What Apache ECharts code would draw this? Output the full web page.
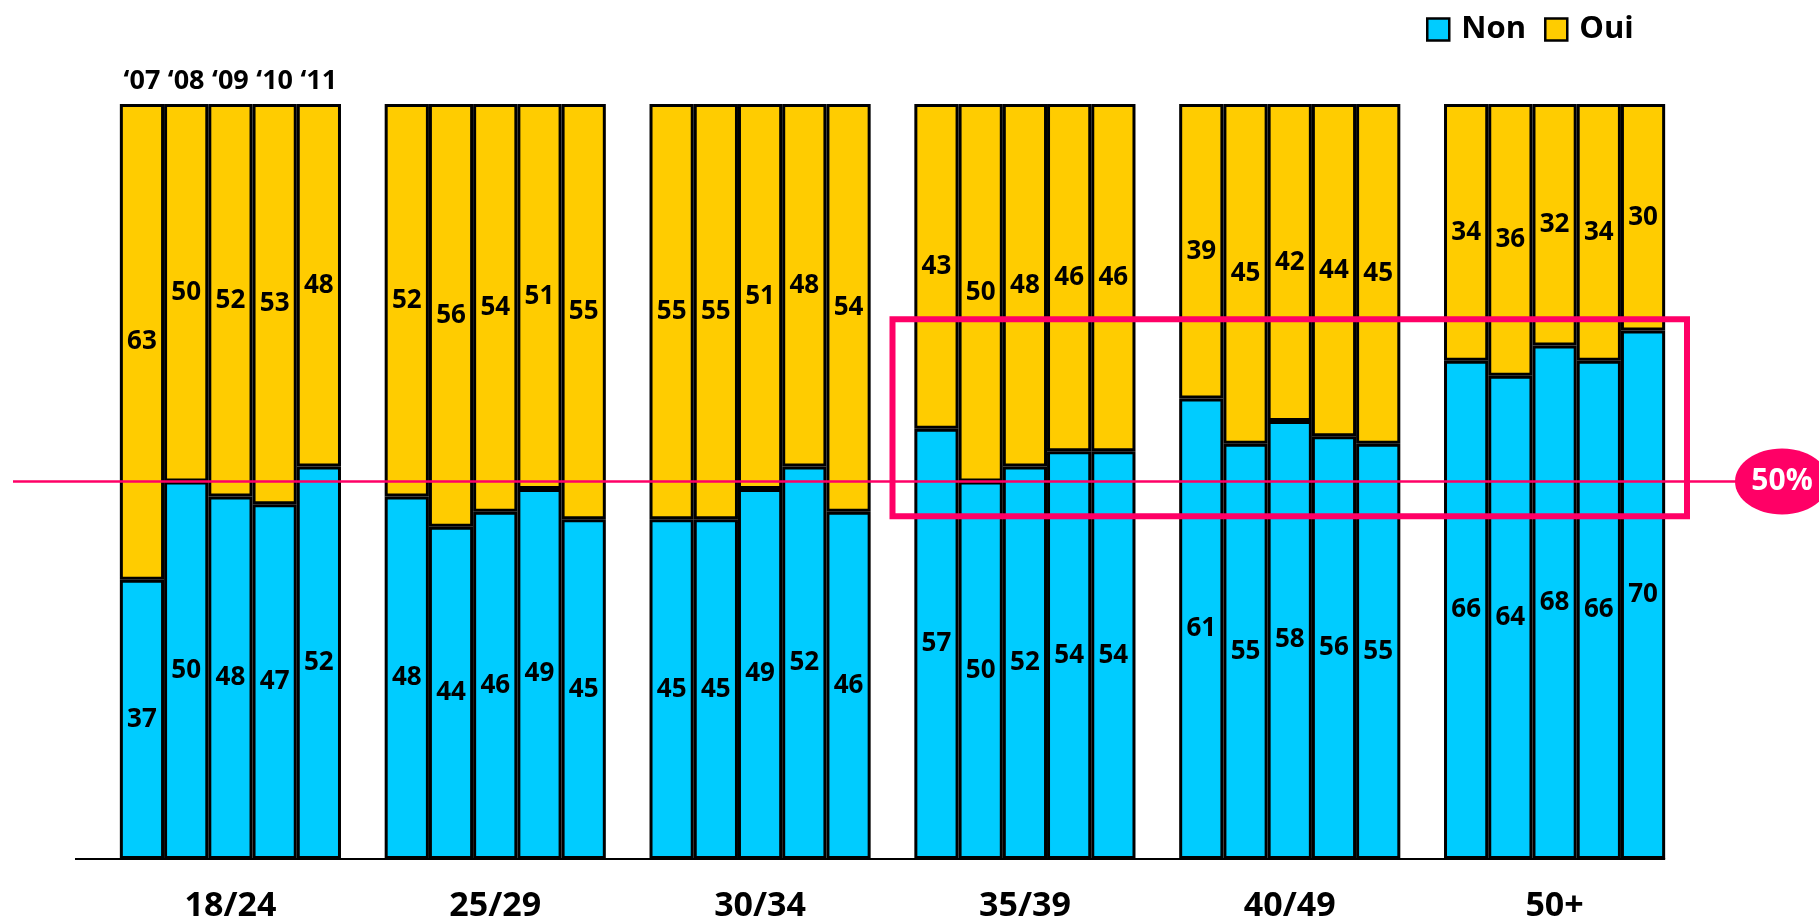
<!DOCTYPE html>
<html>
<head>
<meta charset="utf-8">
<style>
  html, body { margin: 0; padding: 0; background: #fff; }
  #chart { width: 1819px; height: 924px; }
</style>
<script src="https://cdn.jsdelivr.net/npm/echarts@6/dist/echarts.min.js"></script>
</head>
<body>
<div id="chart"></div>
<script>
// Age groups on the category axis
const categories = ['18/24', '25/29', '30/34', '35/39', '40/49', '50+'];
// Survey years, one bar per year inside each age group
const years = ['\u201807', '\u201808', '\u201809', '\u201810', '\u201811'];

// "Non" share (%) per age group, one array per year
const non07 = [37, 48, 45, 57, 61, 66];
const non08 = [50, 44, 45, 50, 55, 64];
const non09 = [48, 46, 49, 52, 58, 68];
const non10 = [47, 49, 52, 54, 56, 66];
const non11 = [52, 45, 46, 54, 55, 70];

// "Oui" share (%) per age group, one array per year
const oui07 = [63, 52, 55, 43, 39, 34];
const oui08 = [50, 56, 55, 50, 45, 36];
const oui09 = [52, 54, 51, 48, 42, 32];
const oui10 = [53, 51, 48, 46, 44, 34];
const oui11 = [48, 55, 54, 46, 45, 30];

const nonByYear = [non07, non08, non09, non10, non11];
const ouiByYear = [oui07, oui08, oui09, oui10, oui11];

// Reference level and highlighted zone
const refLevel = 50;
const refLabel = '50%';
const highlightFrom = '35/39';
const highlightTo = '50+';
const highlightTop = 71.5;
const highlightBottom = 45.4;

const FONT = '"Open Sans", "Noto Sans", sans-serif';
const CYAN = '#00CCFF';
const YELLOW = '#FFCC00';
const PINK = '#FF0066';
const CAT_GAP = 0.165;

const labelStyle = {
  show: true,
  position: 'inside',
  color: '#000',
  fontFamily: FONT,
  fontWeight: 'bold',
  fontSize: 26
};

const series = [];
years.forEach((yr, i) => {
  const stack = 'y' + i;
  series.push({
    name: 'Non', type: 'bar', stack: stack,
    data: nonByYear[i],
    itemStyle: { color: CYAN, borderColor: '#000', borderWidth: 3 },
    label: labelStyle
  });
  series.push({
    name: 'Oui', type: 'bar', stack: stack,
    data: ouiByYear[i],
    itemStyle: { color: YELLOW, borderColor: '#000', borderWidth: 3 },
    label: labelStyle
  });
  // zero-height cap carrying the year caption above the first group
  series.push({
    name: 'year' + i, type: 'bar', stack: stack,
    data: categories.map((c, k) => k === 0
      ? { value: 0, label: { show: true, formatter: yr } }
      : '-'),
    itemStyle: { color: 'transparent', borderWidth: 0 },
    label: {
      show: false, position: 'top', distance: 9,
      color: '#000', fontFamily: FONT, fontWeight: 'bold', fontSize: 27
    }
  });
});
series[0].barGap = '0%';
series[0].barCategoryGap = (CAT_GAP * 100) + '%';

const option = {
  animation: false,
  backgroundColor: '#fff',
  legend: {
    data: ['Non', 'Oui'],
    left: 1421, top: 9,
    itemWidth: 22, itemHeight: 22, itemGap: 18,
    icon: 'rect',
    itemStyle: { borderColor: '#000', borderWidth: 2.5 },
    textStyle: {
      color: '#000', fontFamily: FONT, fontWeight: 'bold', fontSize: 31,
      padding: [0, 0, 0, 7]
    },
    selectedMode: false
  },
  grid: { left: 98, right: 132, top: 104, bottom: 65, containLabel: false },
  xAxis: {
    type: 'category',
    data: categories,
    axisLine: { show: false },
    axisTick: { show: false },
    axisLabel: {
      color: '#000', fontFamily: FONT, fontWeight: 'bold', fontSize: 34, margin: 30
    }
  },
  yAxis: {
    type: 'value', min: 0, max: 100, show: false,
    splitLine: { show: false }
  },
  series: series
};

const chart = echarts.init(document.getElementById('chart'), null, { renderer: 'canvas' });
chart.setOption(option);

// Decorations placed through the chart's own scales
const cx0 = chart.convertToPixel({ xAxisIndex: 0 }, categories[0]);
const cx1 = chart.convertToPixel({ xAxisIndex: 0 }, categories[1]);
const pitch = cx1 - cx0;
const groupHalf = pitch * (1 - CAT_GAP) / 2;
const lastEnd = chart.convertToPixel({ xAxisIndex: 0 }, categories[categories.length - 1]) + groupHalf;
const baseY = chart.convertToPixel({ yAxisIndex: 0 }, 0);
const refY = chart.convertToPixel({ yAxisIndex: 0 }, refLevel);
const hlX1 = chart.convertToPixel({ xAxisIndex: 0 }, highlightFrom) - pitch / 2;
const hlX2 = chart.convertToPixel({ xAxisIndex: 0 }, highlightTo) + pitch / 2;
const hlY1 = chart.convertToPixel({ yAxisIndex: 0 }, highlightTop);
const hlY2 = chart.convertToPixel({ yAxisIndex: 0 }, highlightBottom);

chart.setOption({
  graphic: [
    {
      type: 'line', z: 50,
      shape: { x1: 75, y1: baseY, x2: lastEnd, y2: baseY },
      style: { stroke: '#000', lineWidth: 2 }
    },
    {
      type: 'rect', z: 60,
      shape: { x: hlX1, y: hlY1, width: hlX2 - hlX1, height: hlY2 - hlY1 },
      style: { fill: 'none', stroke: PINK, lineWidth: 6 }
    },
    {
      type: 'line', z: 61,
      shape: { x1: 13, y1: refY, x2: 1745, y2: refY },
      style: { stroke: PINK, lineWidth: 2.5 }
    },
    {
      type: 'ellipse', z: 62,
      shape: { cx: 1782, cy: refY, rx: 47, ry: 33 },
      style: { fill: PINK }
    },
    {
      type: 'text', z: 63,
      x: 1782, y: refY,
      style: {
        text: refLabel, fill: '#fff', fontFamily: FONT, fontWeight: 'bold',
        fontSize: 30, align: 'center', verticalAlign: 'middle'
      }
    }
  ]
});
</script>
</body>
</html>
